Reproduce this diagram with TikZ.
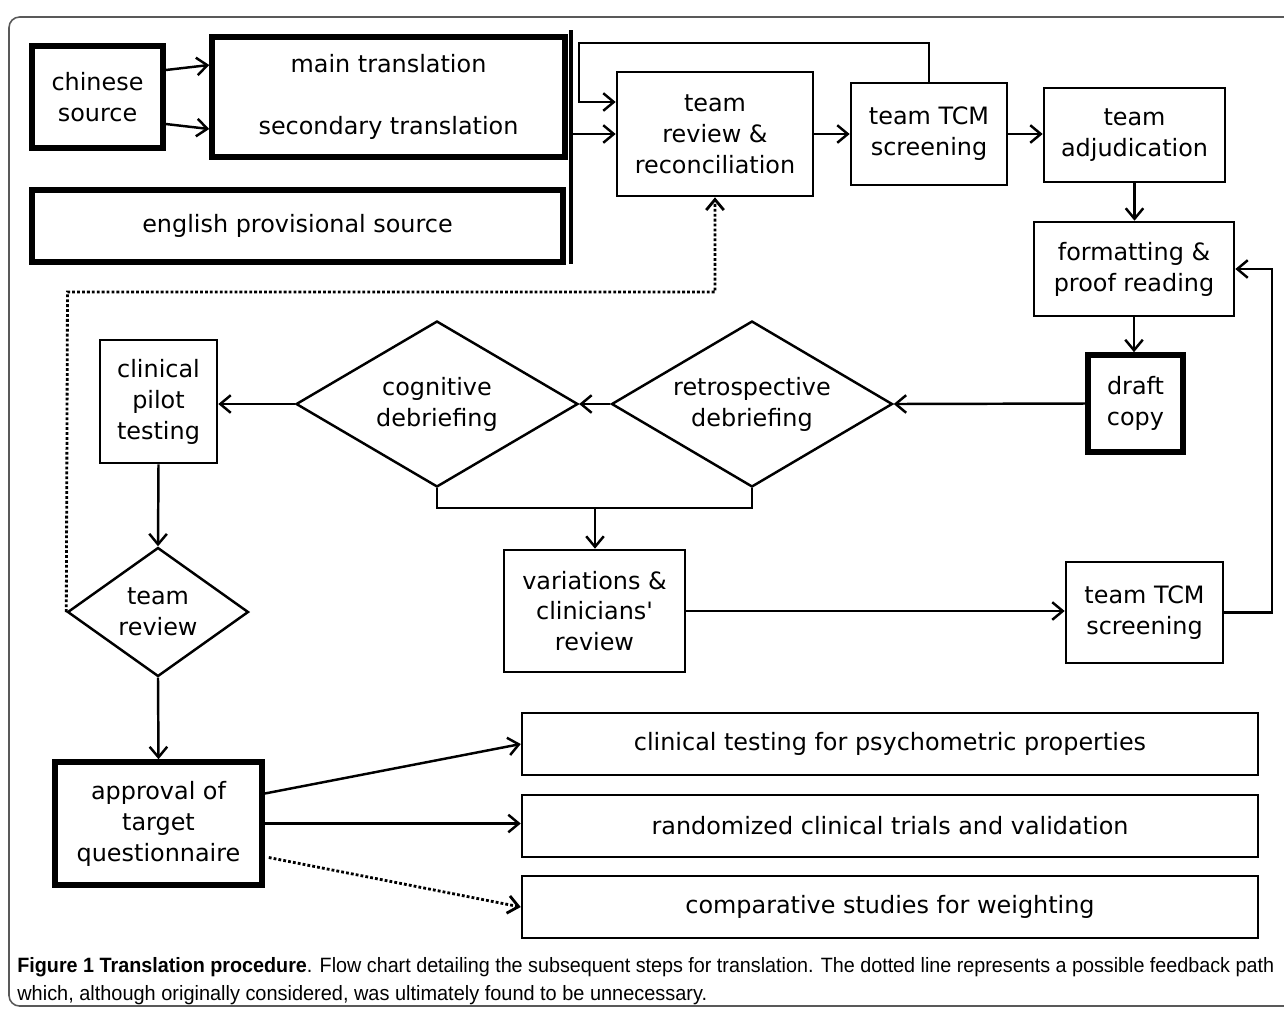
\documentclass[tikz,border=0pt]{standalone}
\usepackage{fontspec}
\newfontfamily\diafont{DejaVu Sans}
\newfontfamily\capfont{Liberation Sans}
\usetikzlibrary{arrows.meta,shapes.geometric,calc}
\begin{document}
\begin{tikzpicture}[x=0.02cm,y=-0.02cm,
  every node/.style={font=\diafont\fontsize{13.6}{17.6}\selectfont, align=center, inner sep=0pt, text=black},
  box/.style={draw, line width=1.5pt, rectangle},
  tbox/.style={draw, line width=3.2pt, rectangle},
  dia/.style={draw, line width=1.4pt, diamond, inner sep=0pt},
  con/.style={line width=1.4pt},
  arr/.style={con, -{Straight Barb[length=6pt,width=10pt]}},
  dots/.style={line width=1.6pt, dash pattern=on 1.6pt off 1.2pt}
]
\useasboundingbox (0,0) rectangle (1284,1009);
\clip (0,0) rectangle (1284,1009);
% frame
\draw[black!65, line width=0.9pt, rounded corners=6pt] (9,17) rectangle (1330,1006);

% nodes
\node[tbox, minimum width=2.62cm, minimum height=2.04cm] (chin) at (97.5,97) {chinese\\source};
\node[tbox, minimum width=7.06cm, minimum height=2.4cm] (main) at (388.5,97) {main translation\\[17.6pt]secondary translation};
\node[tbox, minimum width=10.62cm, minimum height=1.44cm] (eng) at (297.5,226) {english provisional source};
\node[box, minimum width=3.92cm, minimum height=2.48cm] (rev) at (715,134) {team\\review \&\\reconciliation};
\node[box, minimum width=3.12cm, minimum height=2.04cm] (tcm) at (929,134) {team TCM\\screening};
\node[box, minimum width=3.62cm, minimum height=1.88cm] (adj) at (1134.5,135) {team\\adjudication};
\node[box, minimum width=4.0cm, minimum height=1.88cm] (fmt) at (1134,269) {formatting \&\\proof reading};
\node[tbox, minimum width=1.9cm, minimum height=1.94cm] (draft) at (1135.5,403.5) {draft\\copy};
\node[dia, aspect=1.69, minimum width=5.62cm, minimum height=3.32cm] (retro) at (752,404) {retrospective\\debriefing};
\node[dia, aspect=1.69, minimum width=5.64cm, minimum height=3.32cm] (cog) at (437,404) {cognitive\\debriefing};
\node[box, minimum width=2.34cm, minimum height=2.46cm] (pilot) at (158.5,401.5) {clinical\\pilot\\testing};
\node[dia, aspect=1.4, minimum width=3.62cm, minimum height=2.58cm] (trev) at (158,612) {team\\review};
\node[box, minimum width=3.62cm, minimum height=2.44cm] (var) at (594.5,611) {variations \&\\clinicians'\\review};
\node[box, minimum width=3.14cm, minimum height=2.02cm] (tcm2) at (1144.5,612.5) {team TCM\\screening};
\node[tbox, minimum width=4.14cm, minimum height=2.46cm] (appr) at (158.5,823.5) {approval of\\target\\questionnaire};
\node[box, minimum width=14.72cm, minimum height=1.24cm] (ct) at (890,744) {clinical testing for psychometric properties};
\node[box, minimum width=14.72cm, minimum height=1.24cm] (rt) at (890,826) {randomized clinical trials and validation};
\node[box, minimum width=14.72cm, minimum height=1.24cm] (cs) at (890,907) {comparative studies for weighting};

% coordinates
\coordinate (barT) at (571,30);
\coordinate (barB) at (571,264);
\coordinate (loopL) at (579,43);
\coordinate (join) at (595,508);
\coordinate (rloop) at (1272,612.5);
\coordinate (dotC) at (67.5,292);

% connectors
\draw[arr] ($(chin.east)+(0,-27)$) -- ($(main.west)+(0,-32)$);
\draw[arr] ($(chin.east)+(0,27)$) -- ($(main.west)+(0,32)$);
\draw[line width=1.8pt] (barT) -- (barB);
\draw[arr] (rev.west -| barT) -- (rev.west);
\draw[arr] (tcm.north) |- (loopL) |- ($(rev.west)+(0,-32)$);
\draw[arr] (rev.east) -- (tcm.west);
\draw[arr] (tcm.east) -- (tcm.east -| adj.west);
\draw[arr] (adj.south) -- (adj.south |- fmt.north);
\draw[arr] (fmt.south) -- (fmt.south |- draft.north);
\draw[arr] (draft.west) -- (retro.east);
\draw[arr] (retro.west) -- (cog.east);
\draw[arr] (cog.west) -- (cog.west -| pilot.east);
\draw[arr] (pilot.south) -- (trev.north);
\draw[arr] (trev.south) -- (appr.north);
\draw[con] (cog.south) |- (join) -| (retro.south);
\draw[arr] (join) -- (join |- var.north);
\draw[arr] (var.east) -- (var.east -| tcm2.west);
\draw[arr] (tcm2.east) -- (rloop) |- (fmt.east);
\draw[arr, dots] (trev.west) -- (dotC) -| (rev.south);
\draw[arr] ($(appr.east)+(0,-30)$) -- (ct.west);
\draw[arr] (appr.east) -- (appr.east -| rt.west);
\draw[arr, dots] ($(appr.east)+(4,34)$) -- (cs.west);

% caption
\node[anchor=base west, font=\capfont\fontsize{11.8}{14}\selectfont] (cap1) at (17,972) {\resizebox{25.14cm}{\height}{\textbf{Figure 1 Translation procedure}. Flow chart detailing the subsequent steps for translation. The dotted line represents a possible feedback path}};
\node[anchor=base west, font=\capfont\fontsize{11.8}{14}\selectfont] (cap2) at (17,1000) {\resizebox{13.8cm}{\height}{which, although originally considered, was ultimately found to be unnecessary.}};
\end{tikzpicture}
\end{document}
